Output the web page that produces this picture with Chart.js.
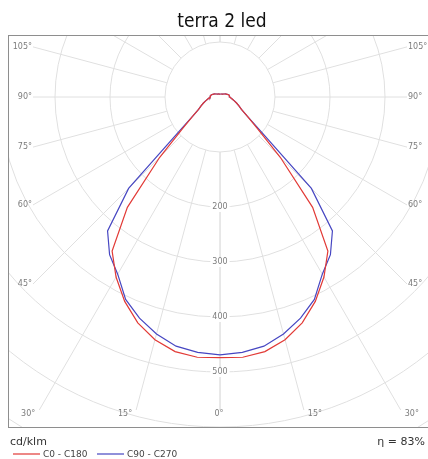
<!DOCTYPE html>
<html>
<head>
<meta charset="utf-8">
<script src="https://cdn.jsdelivr.net/npm/chart.js@4.4.1/dist/chart.umd.min.js"></script>
<style>
    html, body { margin: 0; padding: 0; background: #fff; }
    canvas { display: block; }
</style>
</head>
<body>
<canvas id="polarChart" width="428" height="459"></canvas>
<script>
// --- DATA ---
// gamma angle from nadir (deg), intensities in cd/klm
const gammaAngles = [0, 5, 10, 15, 20, 25, 30, 35, 40, 45, 50, 55, 60, 65, 70, 75, 80, 85, 90,
    95, 100, 105, 110, 115, 120, 125, 130, 135, 140, 145, 150, 155, 160, 165, 170, 175, 180];
const c0c180 = [474, 475, 470, 457, 437, 410, 378, 342, 262, 155, 88, 60, 45, 38, 32, 27, 23, 20, 18,
    17.5, 17, 16, 14, 12.5, 11, 9.5, 8.5, 7.6, 7, 6.6, 6.3, 6, 5.8, 5.6, 5.5, 5.5, 5.5];
const c90c270 = [469, 466, 460, 446, 428, 406, 372, 350, 318, 235, 96, 60, 45, 38, 32, 27, 23, 20, 18,
    17.5, 17, 16, 14, 12.5, 11, 9.5, 8.5, 7.6, 7, 6.6, 6.3, 6, 5.8, 5.6, 5.5, 5.5, 5.5];

const ringValues = [100, 200, 300, 400, 500, 600, 700, 800];
const ringLabels = [200, 300, 400, 500];
const spokeAngles = [0, 15, 30, 45, 60, 75, 90, 105, 120, 135, 150, 165, 180];
const labelledSpokes = [0, 15, 30, 45, 60, 75, 90, 105];

const seriesNames = ['C0 - C180', 'C90 - C270'];
const seriesColors = ['#e23a36', '#4646c2'];
const titleText = 'terra 2 led';
const unitText = 'cd/klm';
const effText = 'η = 83%';

// layout (px)
const pxPerUnit = 0.55;
const centerX = 220, centerY = 97;
const frame = { left: 8, top: 35, right: 428, bottom: 427 };
const spokeSide = 187, spokeBottom = 313;

const gridColor = '#e0e0e0';
const labelColor = '#7c7c7c';
const smallFont = "8px 'DejaVu Sans', sans-serif";

const rad = d => d * Math.PI / 180;

// one C-plane pair: left half (C180/C270) then right half (C0/C90)
function toPoints(values) {
    const pts = [];
    for (let i = gammaAngles.length - 1; i >= 0; i--) {
        const g = rad(gammaAngles[i]);
        pts.push({ x: -values[i] * Math.sin(g), y: -values[i] * Math.cos(g) });
    }
    for (let i = 1; i < gammaAngles.length; i++) {
        const g = rad(gammaAngles[i]);
        pts.push({ x: values[i] * Math.sin(g), y: -values[i] * Math.cos(g) });
    }
    return pts;
}

const xMin = -(centerX - frame.left) / pxPerUnit;
const xMax = (frame.right - centerX) / pxPerUnit;
const yMax = (centerY - frame.top) / pxPerUnit;
const yMin = -(frame.bottom - centerY) / pxPerUnit;

// where a spoke stops (value units) and whether it ends at the side or bottom
function spokeEnd(gDeg) {
    const s = Math.sin(rad(gDeg)), c = Math.cos(rad(gDeg));
    let r = Infinity, where = 'top';
    if (s > 1e-6 && spokeSide / pxPerUnit / s < r) { r = spokeSide / pxPerUnit / s; where = 'side'; }
    if (c > 1e-6 && spokeBottom / pxPerUnit / c < r) { r = spokeBottom / pxPerUnit / c; where = 'bottom'; }
    if (c < -1e-6 && yMax / -c < r) { r = yMax / -c; where = 'top'; }
    return { r, where };
}

const polarGrid = {
    id: 'polarGrid',
    beforeDatasetsDraw(chart) {
        const { ctx, chartArea: a, scales: { x, y } } = chart;
        const cx = x.getPixelForValue(0), cy = y.getPixelForValue(0);
        const k = x.getPixelForValue(100) - cx;

        ctx.save();
        ctx.beginPath();
        ctx.rect(a.left, a.top, a.right - a.left, a.bottom - a.top);
        ctx.clip();
        ctx.strokeStyle = gridColor;
        ctx.lineWidth = 1;

        ringValues.forEach(v => {
            ctx.beginPath();
            ctx.arc(cx, cy, v * k / 100, 0, Math.PI * 2);
            ctx.stroke();
        });

        spokeAngles.forEach(g => {
            const s = Math.sin(rad(g)), c = Math.cos(rad(g));
            const end = spokeEnd(g).r;
            [1, -1].forEach(side => {
                ctx.beginPath();
                ctx.moveTo(x.getPixelForValue(side * 100 * s), y.getPixelForValue(-100 * c));
                ctx.lineTo(x.getPixelForValue(side * end * s), y.getPixelForValue(-end * c));
                ctx.stroke();
            });
        });

        // ring values along the nadir axis
        ctx.font = smallFont;
        ctx.textAlign = 'center';
        ctx.textBaseline = 'middle';
        ringLabels.forEach(v => {
            const py = y.getPixelForValue(-v);
            const w = ctx.measureText(String(v)).width + 4;
            ctx.fillStyle = '#fff';
            ctx.fillRect(cx - w / 2, py - 5, w, 10);
            ctx.fillStyle = labelColor;
            ctx.fillText(String(v), cx, py);
        });
        ctx.restore();

        ctx.save();
        ctx.strokeStyle = '#8e8e8e';
        ctx.lineWidth = 1;
        ctx.strokeRect(a.left + 0.5, a.top + 0.5, 430, a.bottom - a.top);
        ctx.restore();
    },
    afterDraw(chart) {
        const { ctx, scales: { x, y } } = chart;
        ctx.save();

        // angle labels at spoke ends
        ctx.font = smallFont;
        ctx.fillStyle = labelColor;
        ctx.textBaseline = 'middle';
        labelledSpokes.forEach(g => {
            const s = Math.sin(rad(g)), c = Math.cos(rad(g));
            const { r, where } = spokeEnd(g);
            [1, -1].forEach(side => {
                if (g === 0 && side < 0) return;
                const px = x.getPixelForValue(side * r * s);
                const py = y.getPixelForValue(-r * c);
                const txt = g + '°';
                if (where === 'side') {
                    ctx.textAlign = side < 0 ? 'right' : 'left';
                    ctx.fillText(txt, px + side * 1, py);
                } else if (g === 0) {
                    ctx.textAlign = 'center';
                    ctx.fillText(txt, px - 1, py + 4);
                } else {
                    ctx.textAlign = side < 0 ? 'right' : 'left';
                    ctx.fillText(txt, px + side * 4, py + 4);
                }
            });
        });

        // title
        ctx.fillStyle = '#111';
        ctx.font = "19px 'DejaVu Sans Condensed', 'Liberation Sans Narrow', sans-serif";
        ctx.textAlign = 'center';
        ctx.textBaseline = 'alphabetic';
        ctx.fillText(titleText, 222, 27);

        // footer
        ctx.fillStyle = '#333';
        ctx.font = "11px 'DejaVu Sans', sans-serif";
        ctx.textAlign = 'left';
        ctx.fillText(unitText, 10, 445);
        ctx.textAlign = 'right';
        ctx.fillText(effText, 425, 445);

        // legend
        ctx.font = "9px 'DejaVu Sans', sans-serif";
        ctx.textAlign = 'left';
        const legendX = [13, 97];
        seriesNames.forEach((name, i) => {
            ctx.strokeStyle = seriesColors[i];
            ctx.lineWidth = 1.2;
            ctx.beginPath();
            ctx.moveTo(legendX[i], 454);
            ctx.lineTo(legendX[i] + 27, 454);
            ctx.stroke();
            ctx.fillStyle = '#444';
            ctx.fillText(name, legendX[i] + 30, 457);
        });
        ctx.restore();
    }
};

new Chart(document.getElementById('polarChart'), {
    type: 'scatter',
    data: {
        datasets: [
            { label: seriesNames[0], data: toPoints(c0c180), borderColor: seriesColors[0] },
            { label: seriesNames[1], data: toPoints(c90c270), borderColor: seriesColors[1] }
        ].map(ds => Object.assign(ds, {
            showLine: true, pointRadius: 0, borderWidth: 1.2, fill: false, tension: 0
        }))
    },
    options: {
        responsive: false,
        animation: false,
        layout: { padding: { left: frame.left, top: frame.top, right: 428 - frame.right, bottom: 459 - frame.bottom } },
        scales: {
            x: { type: 'linear', min: xMin, max: xMax, display: false },
            y: { type: 'linear', min: yMin, max: yMax, display: false }
        },
        plugins: {
            legend: { display: false },
            title: { display: false },
            tooltip: { enabled: false }
        }
    },
    plugins: [polarGrid]
});
</script>
</body>
</html>
